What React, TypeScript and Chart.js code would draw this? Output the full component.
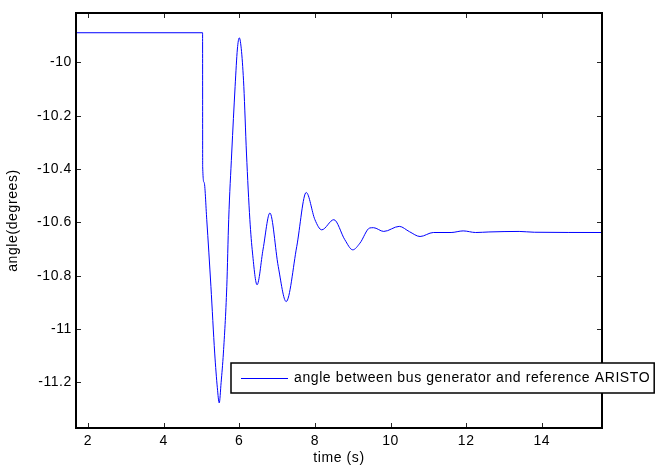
import React, { useEffect, useRef } from 'react';
import { Chart, registerables } from 'chart.js';

Chart.register(...registerables);

// ---- data ----
const timeS = [
  1.683, 5.03, 5.032, 5.07, 5.14, 5.25, 5.35, 5.42, 5.47, 5.52, 5.58, 5.67, 5.72, 5.8, 5.89, 5.95,
  6.0, 6.06, 6.12, 6.19, 6.28, 6.35, 6.47, 6.63, 6.81, 7.03, 7.24, 7.52, 7.77, 8.0, 8.18, 8.5,
  8.79, 9.0, 9.19, 9.45, 9.55, 9.82, 10.23, 10.5, 10.78, 11.13, 11.6, 11.92, 12.25, 12.6, 13.4,
  13.8, 15.59,
];
const angleDeg = [
  -9.889, -9.889, -10.39, -10.45, -10.59, -10.84, -11.09, -11.22, -11.277, -11.2, -11.09, -10.84,
  -10.59, -10.34, -10.09, -9.95, -9.908, -9.96, -10.09, -10.34, -10.59, -10.715, -10.834, -10.7,
  -10.565, -10.765, -10.897, -10.69, -10.488, -10.59, -10.628, -10.59, -10.665, -10.703, -10.678,
  -10.621, -10.62, -10.634, -10.615, -10.635, -10.653, -10.638, -10.638, -10.632, -10.638,
  -10.636, -10.634, -10.637, -10.638,
];
const xTicks = [2, 4, 6, 8, 10, 12, 14];
const yTicks = [-10, -10.2, -10.4, -10.6, -10.8, -11, -11.2];
const xLimits = [1.683, 15.59];
const yLimits = [-11.371, -9.815];
const seriesLabel = 'angle between bus generator and reference ARISTO';
const xTitle = 'time (s)';
const yTitle = 'angle(degrees)';

const FONT_FAMILY = '"Liberation Sans", Arial, sans-serif';
const FONT_SIZE = 14;
const LETTER_SPACING = '0.6px';

const spacingPlugin = {
  id: 'spacing',
  beforeLayout(chart: any) {
    (chart.ctx as any).letterSpacing = LETTER_SPACING;
  },
  beforeDraw(chart: any) {
    (chart.ctx as any).letterSpacing = LETTER_SPACING;
  },
};

const framePlugin = {
  id: 'frameTicks',
  afterDatasetsDraw(chart: any) {
    const { ctx, chartArea: a, scales } = chart;
    ctx.save();
    ctx.strokeStyle = '#262626';
    ctx.lineWidth = 1;
    const tl = 5;
    ctx.beginPath();
    xTicks.forEach((v) => {
      const px = Math.round(scales.x.getPixelForValue(v)) + 0.5;
      ctx.moveTo(px, a.bottom);
      ctx.lineTo(px, a.bottom - tl);
      ctx.moveTo(px, a.top);
      ctx.lineTo(px, a.top + tl);
    });
    yTicks.forEach((v) => {
      const py = Math.round(scales.y.getPixelForValue(v)) + 0.5;
      ctx.moveTo(a.left, py);
      ctx.lineTo(a.left + tl, py);
      ctx.moveTo(a.right, py);
      ctx.lineTo(a.right - tl, py);
    });
    ctx.stroke();
    ctx.strokeStyle = '#000';
    ctx.lineWidth = 2;
    ctx.strokeRect(a.left, a.top, a.right - a.left, a.bottom - a.top);
    ctx.restore();
  },
  afterDraw(chart: any) {
    const { ctx, chartArea: a } = chart;
    const ds = chart.data.datasets[0];
    ctx.save();
    ctx.font = `${FONT_SIZE}px ${FONT_FAMILY}`;
    (ctx as any).letterSpacing = LETTER_SPACING;
    const x0 = a.left + 155;
    const y0 = a.bottom - 65;
    const h = 30;
    const textX = x0 + 63;
    const tw = ctx.measureText(ds.label).width;
    const w = textX - x0 + tw + 4;
    ctx.fillStyle = '#fff';
    ctx.fillRect(x0, y0, w, h);
    ctx.strokeStyle = '#000';
    ctx.lineWidth = 1.5;
    ctx.strokeRect(x0, y0, w, h);
    ctx.strokeStyle = ds.borderColor;
    ctx.lineWidth = 1;
    ctx.beginPath();
    ctx.moveTo(x0 + 10, y0 + 15.5);
    ctx.lineTo(x0 + 57, y0 + 15.5);
    ctx.stroke();
    ctx.fillStyle = '#000';
    ctx.textBaseline = 'middle';
    ctx.textAlign = 'left';
    ctx.fillText(ds.label, textX, y0 + 15);
    ctx.restore();
  },
};

export default function App() {
  const ref = useRef<HTMLCanvasElement | null>(null);

  useEffect(() => {
    if (!ref.current) return;
    const font = { family: FONT_FAMILY, size: FONT_SIZE };
    const chart = new Chart(ref.current, {
      type: 'scatter',
      data: {
        datasets: [
          {
            label: seriesLabel,
            data: timeS.map((t, i) => ({ x: t, y: angleDeg[i] })),
            showLine: true,
            borderColor: '#0000ff',
            borderWidth: 1,
            pointRadius: 0,
            cubicInterpolationMode: 'monotone',
          } as any,
        ],
      },
      options: {
        animation: false,
        responsive: false,
        devicePixelRatio: 1,
        layout: { padding: { top: 13, right: 55, bottom: 0, left: 0 } },
        plugins: { legend: { display: false }, tooltip: { enabled: false } },
        scales: {
          x: {
            type: 'linear',
            min: xLimits[0],
            max: xLimits[1],
            afterBuildTicks: (s: any) => {
              s.ticks = xTicks.map((v) => ({ value: v }));
            },
            afterFit: (s: any) => {
              s.height = 43;
            },
            ticks: {
              color: '#000',
              font,
              padding: 5,
              maxRotation: 0,
              autoSkip: false,
              callback: (v: any) => String(v),
            },
            grid: { display: false, drawTicks: false },
            border: { display: false },
            title: {
              display: true,
              text: xTitle,
              color: '#000',
              font,
              padding: { top: 0, bottom: 4 },
            },
          },
          y: {
            type: 'linear',
            min: yLimits[0],
            max: yLimits[1],
            afterBuildTicks: (s: any) => {
              s.ticks = yTicks.map((v) => ({ value: v }));
            },
            afterFit: (s: any) => {
              s.width = 76;
            },
            ticks: {
              color: '#000',
              font,
              padding: 4,
              autoSkip: false,
              callback: (v: any) => String(Math.round(v * 10) / 10),
            },
            grid: { display: false, drawTicks: false },
            border: { display: false },
            title: {
              display: true,
              text: yTitle,
              color: '#000',
              font,
              padding: { top: 5, bottom: 0 },
            },
          },
        },
      },
      plugins: [spacingPlugin, framePlugin],
    });
    return () => chart.destroy();
  }, []);

  return (
    <div style={{ position: 'fixed', left: 0, top: 0, width: 657, height: 471, background: '#fff' }}>
      <canvas ref={ref} width={657} height={471} style={{ width: 657, height: 471, display: 'block' }} />
    </div>
  );
}
